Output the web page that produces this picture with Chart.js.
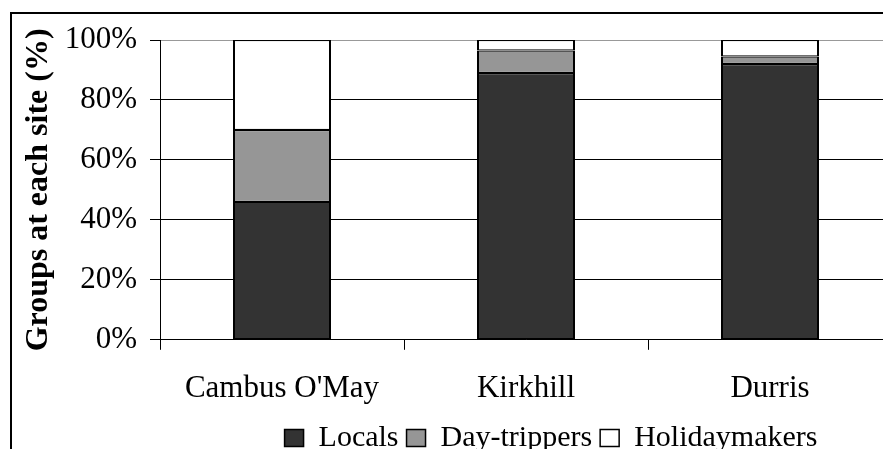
<!DOCTYPE html>
<html>
<head>
<meta charset="utf-8">
<script src="https://cdn.jsdelivr.net/npm/chart.js@4.4.1/dist/chart.umd.min.js"></script>
<style>
html, body { margin: 0; padding: 0; background: #fff; overflow: hidden; width: 883px; height: 449px; }
#frame { position: absolute; left: 10px; top: 12px; width: 1200px; height: 600px;
         border-left: 2px solid #000; border-top: 2px solid #000; }
#wrap { position: absolute; left: 0; top: 0; width: 1102px; height: 463px; }
</style>
</head>
<body>
<div id="frame"></div>
<div id="wrap"><canvas id="chart"></canvas></div>
<script>
// values (percent of groups)
const sites = ["Cambus O'May", "Kirkhill", "Durris"];
const locals = [46, 89, 92];
const dayTrippers = [24, 7.5, 2.5];
const holidaymakers = [30, 3.5, 5.5];
const yTickStep = 20;

const serif = '"Liberation Serif", "Times New Roman", serif';

const ctx = document.getElementById('chart').getContext('2d');
const chart = new Chart(ctx, {
    type: 'bar',
    data: {
        labels: sites,
        datasets: [
            { label: 'Locals', data: locals, backgroundColor: '#333333' },
            { label: 'Day-trippers', data: dayTrippers, backgroundColor: '#969696' },
            { label: 'Holidaymakers', data: holidaymakers, backgroundColor: '#ffffff' }
        ].map(d => Object.assign(d, {
            borderColor: '#000',
            borderWidth: { top: 1.2, bottom: 1.2, left: 2, right: 2 },
            borderSkipped: false,
            barPercentage: 98 / 244, categoryPercentage: 1
        }))
    },
    options: {
        responsive: true,
        maintainAspectRatio: false,
        animation: false,
        layout: { padding: { top: 40, bottom: 0, left: 0, right: 0 } },
        plugins: {
            tooltip: { enabled: false },
            legend: {
                position: 'bottom',
                labels: {
                    color: '#000',
                    font: { family: serif, size: 30 },
                    boxWidth: 19,
                    boxHeight: 17,
                    padding: 8,
                    generateLabels: c => Chart.defaults.plugins.legend.labels.generateLabels(c)
                        .map(l => Object.assign(l, { lineWidth: 1.5 }))
                }
            }
        },
        scales: {
            x: {
                stacked: true,
                offset: true,
                // pull the legend closer to the site names
                afterFit: s => { s.height -= 12; },
                grid: { offset: true, drawOnChartArea: false, drawTicks: true, tickLength: 10, tickColor: '#000' },
                border: { display: true, color: '#000', width: 1 },
                ticks: { color: '#000', font: { family: serif, size: 31 }, padding: 20, maxRotation: 0 }
            },
            y: {
                stacked: true,
                min: 0,
                max: 100,
                afterFit: s => { s.width = 160; },
                grid: {
                    color: c => c.tick && c.tick.value === 100 ? '#999999' : '#000000',
                    tickColor: '#000', tickLength: 10, lineWidth: 1
                },
                border: { display: true, color: '#000', width: 1 },
                ticks: {
                    stepSize: yTickStep,
                    color: '#000',
                    font: { family: serif, size: 31 },
                    padding: 13,
                    callback: v => v + '%'
                },
                title: {
                    display: true,
                    text: 'Groups at each site (%)',
                    color: '#000',
                    font: { family: serif, size: 32, weight: 'bold' },
                    padding: { top: 20, bottom: 0 }
                }
            },
            // empty right-hand axis: pushes the plot edge past the window like the original
            y2: {
                position: 'right',
                display: true,
                afterFit: s => { s.width = 210; },
                grid: { display: false },
                border: { display: false },
                ticks: { display: false }
            }
        }
    }
});
</script>
</body>
</html>
